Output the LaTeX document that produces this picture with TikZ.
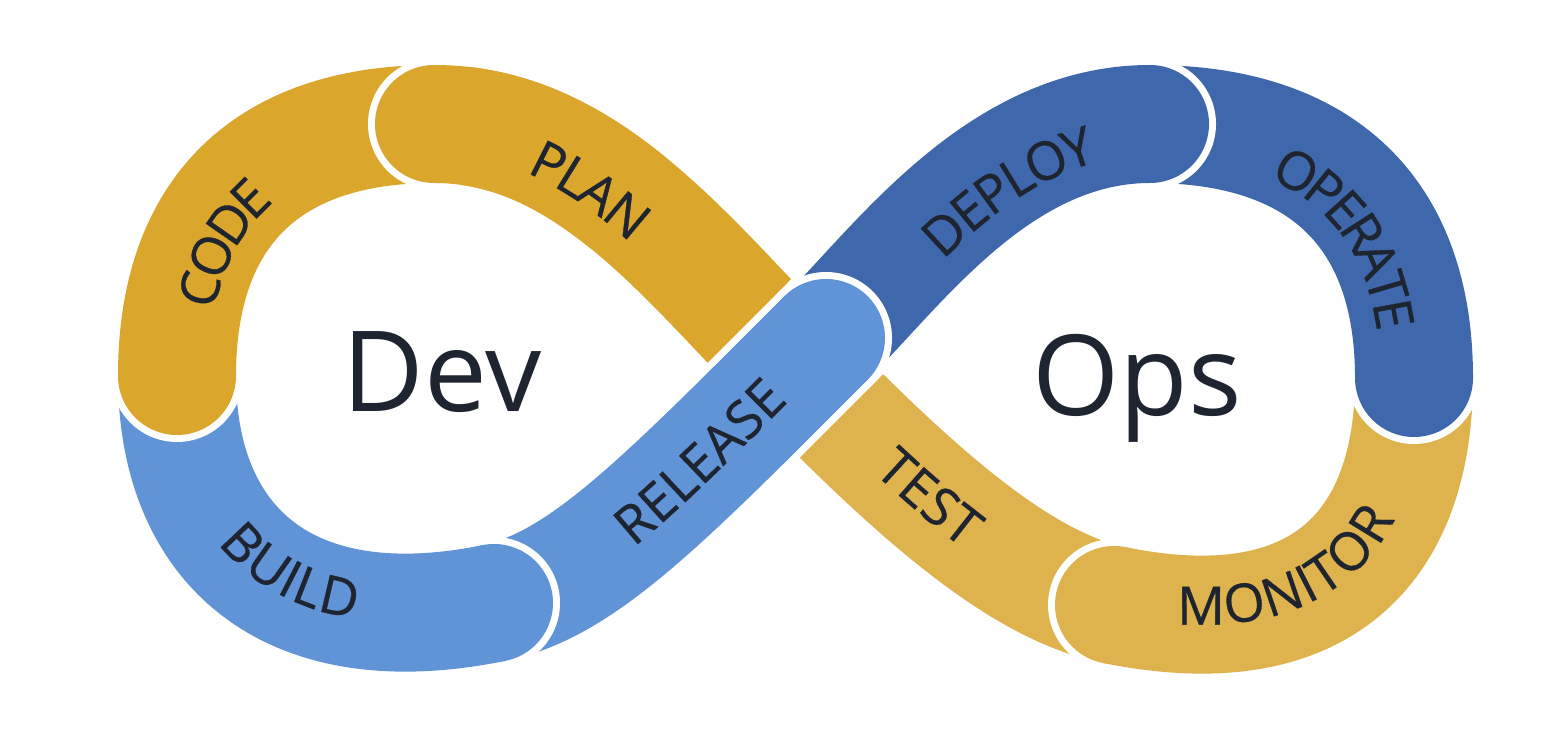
\documentclass[tikz,border=0pt]{standalone}
\usepackage{fontspec}
\setmainfont{Open Sans}
\newfontfamily\lblfam[FakeBold=0.6]{Open Sans}
\usetikzlibrary{decorations.text}
\definecolor{goldA}{HTML}{DBA62C}
\definecolor{goldB}{HTML}{DEB24C}
\definecolor{blueL}{HTML}{6193D7}
\definecolor{blueD}{HTML}{3F68AC}
\definecolor{ink}{HTML}{1E2530}
\newcommand\lblfont{\lblfam\fontsize{26.5pt}{27pt}\selectfont}
\tikzset{
  halo/.style={white,line width=66pt},
  bandline/.style={line width=59pt},
  bigword/.style={anchor=base,inner sep=0pt,text=ink,font=\fontsize{56pt}{60pt}\selectfont},
}
% colour, path, front end
\newcommand\segment[3]{%
  \draw[halo] #2;
  \fill[white] #3 circle[radius=33pt];
  \draw[bandline,#1] #2;
  \fill[#1] #3 circle[radius=29.5pt];}
\newcommand\segplain[2]{%
  \draw[halo] #2;
  \draw[bandline,#1] #2;}
\newcommand\segfront[3]{%
  \fill[white] #3 circle[radius=33pt];
  \draw[bandline,#1] #2;
  \fill[#1] #3 circle[radius=29.5pt];}
\newcommand\steplabel[4]{% text, align options, raise, path
  \path[decorate,decoration={text along path,text color=ink,text={|\lblfont|#1},text align={#2},raise=#3}] #4;}
\begin{document}
\begin{tikzpicture}[x=0.5pt,y=0.5pt]
\useasboundingbox (0,0) rectangle (1562,-742);
\coordinate (X) at (795,-369);
\coordinate (J1) at (434,-124);
\coordinate (J2) at (177,-376);
\coordinate (J3) at (494,-603);
\coordinate (J4) at (826,-338);
\coordinate (J5) at (1150,-124);
\coordinate (J6) at (1414,-378);
\coordinate (J7) at (1114,-605);
\coordinate (M) at (628.75,-203.4);
% TEST
\segplain{goldB}{(J7) .. controls (1026,-587) and (928,-506) .. (X)}
% PLAN (back part, full curve)
\segplain{goldA}{(X) .. controls (683,-254) and (584,-124) .. (J1)}
% MONITOR
\segment{goldB}{(J6) .. controls (1414,-548) and (1320,-647) .. (J7)}{(J7)}
% OPERATE
\segment{blueD}{(J5) .. controls (1322,-124) and (1414,-213) .. (J6)}{(J6)}
% DEPLOY
\segment{blueD}{(J4) .. controls (900,-264) and (1000,-124) .. (J5)}{(J5)}
% RELEASE
\segment{blueL}{(J3) .. controls (582,-585) and (663,-501) .. (J4)}{(J4)}
% BUILD
\segment{blueL}{(J2) .. controls (177,-546) and (288,-645) .. (J3)}{(J3)}
% CODE
\segment{goldA}{(J1) .. controls (267,-124) and (177,-212) .. (J2)}{(J2)}
% PLAN (front part)
\segfront{goldA}{(M) .. controls (571.25,-156.5) and (509,-124) .. (J1)}{(J1)}
% labels
\steplabel{CODE}{center,right indent=60pt}{-15.5pt}{(J2) .. controls (177,-212) and (267,-124) .. (J1)}
\steplabel{PLAN}{center,right indent=50pt}{-14.5pt}{(J1) .. controls (584,-124) and (683,-254) .. (X)}
\steplabel{BUILD}{center,left indent=16pt}{-5pt}{(J2) .. controls (177,-546) and (288,-645) .. (J3)}
\steplabel{RELEASE}{center,left indent=38pt}{-9.25pt}{(J3) .. controls (582,-585) and (663,-501) .. (J4)}
\steplabel{DEPLOY}{center,left indent=38pt}{-15.5pt}{(J4) .. controls (900,-264) and (1000,-124) .. (J5)}
\steplabel{OPERATE}{center,left indent=43pt}{-17pt}{(J5) .. controls (1322,-124) and (1414,-213) .. (J6)}
\steplabel{MONITOR}{center,right indent=38pt}{-5pt}{(J7) .. controls (1320,-647) and (1414,-548) .. (J6)}
\steplabel{TEST}{center,right indent=15pt}{-9.25pt}{(X) .. controls (928,-506) and (1026,-587) .. (J7)}
\node[bigword] (dev) at (442,-412) {Dev};
\node[bigword] (ops) at (1137,-416) {Ops};
\end{tikzpicture}
\end{document}
